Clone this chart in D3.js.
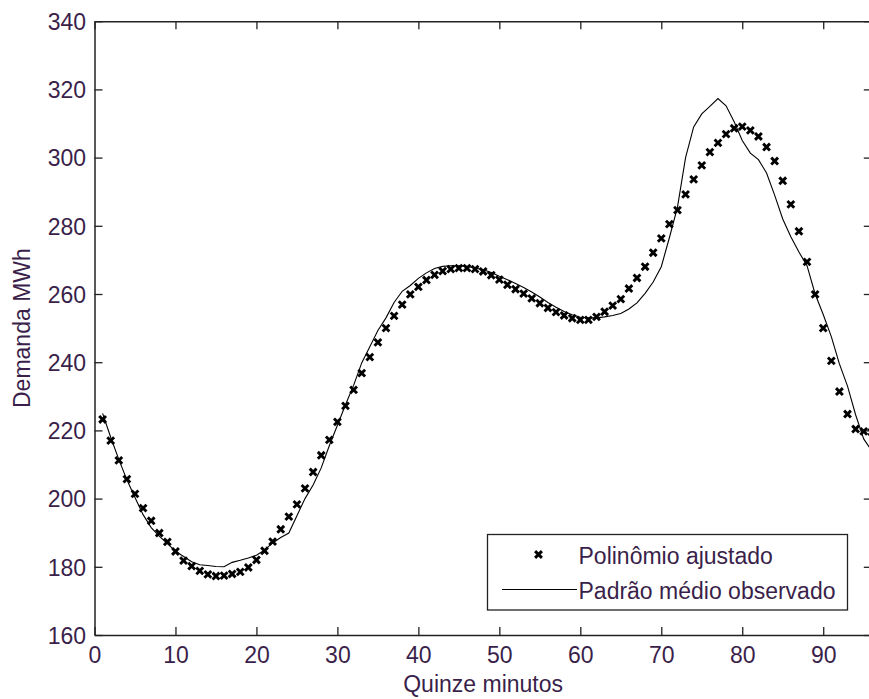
<!DOCTYPE html>
<html>
<head>
<meta charset="utf-8">
<script src="https://cdn.jsdelivr.net/npm/d3@7/dist/d3.min.js"></script>
<style>
  html, body { margin: 0; padding: 0; background: #fff; }
  svg { display: block; }
  text { font-family: "Liberation Sans", Arial, sans-serif; }
</style>
</head>
<body>
<svg id="chart" width="869" height="699"></svg>
<script>
// ---- data ----
const quarterHours = d3.range(1, 97);
const fittedPolynomial = [
  223.2, 217.0, 211.2, 205.7, 201.4, 197.2, 193.5, 189.9, 187.3, 184.5,
  181.8, 180.2, 178.8, 177.8, 177.3, 177.4, 177.9, 178.5, 179.8, 182.0,
  184.7, 187.4, 191.0, 194.7, 198.3, 203.0, 207.8, 212.7, 217.2, 222.5,
  227.2, 231.9, 236.8, 241.5, 245.8, 250.0, 253.6, 256.9, 259.9, 262.1,
  264.1, 265.6, 266.7, 267.3, 267.6, 267.6, 267.3, 266.6, 265.5, 264.2,
  262.7, 261.4, 260.1, 258.7, 257.3, 255.9, 254.7, 253.7, 252.9, 252.4,
  252.4, 253.3, 254.8, 256.6, 258.5, 261.6, 264.7, 268.0, 272.1, 276.3,
  280.5, 284.6, 289.2, 293.6, 297.7, 301.6, 304.3, 306.9, 308.6, 309.1,
  308.0, 306.2, 303.1, 299.0, 293.2, 286.3, 278.4, 269.4, 259.9, 250.0,
  240.4, 231.4, 224.8, 220.4, 219.7, 219.5
];
const observedMean = [
  225.0, 218.0, 211.5, 205.5, 200.3, 195.3, 191.5, 189.0, 186.8, 184.6,
  183.0, 181.5, 180.6, 180.4, 180.1, 180.0, 181.3, 181.9, 182.6, 183.4,
  184.9, 187.0, 188.6, 189.9, 195.0, 200.0, 204.0, 209.0, 215.5, 221.5,
  227.5, 233.2, 239.8, 244.5, 249.3, 253.0, 257.5, 260.8, 262.5, 264.6,
  266.2, 267.5, 268.1, 268.3, 268.3, 268.1, 267.6, 267.1, 266.3, 265.2,
  264.2, 263.1, 261.9, 260.6, 259.1, 257.5, 256.1, 254.9, 253.9, 253.2,
  253.0, 253.0, 253.3, 253.7, 254.3, 255.6, 257.4, 260.2, 263.5, 268.0,
  276.5, 285.5, 300.0, 309.0, 312.8, 315.0, 317.3, 315.2, 310.5, 305.0,
  301.3, 299.4, 295.5, 289.0, 282.0, 276.8, 272.3, 268.3, 260.0, 254.0,
  247.5, 239.5, 233.0, 224.6, 217.5, 214.0
];
const xTicks = [0, 10, 20, 30, 40, 50, 60, 70, 80, 90];
const yTicks = [160, 180, 200, 220, 240, 260, 280, 300, 320, 340];
const seriesNames = ["Polinômio ajustado", "Padrão médio observado"];
const xLabel = "Quinze minutos";
const yLabel = "Demanda MWh";

// ---- layout ----
const svg = d3.select("#chart");
const L = 94.5, R = 871.8, T = 21.2, B = 635;
const textColor = "#3a1f4a";
const axisColor = "#222";
const fontSize = 23;

const x = d3.scaleLinear().domain([0, 96]).range([L, R]);
const y = d3.scaleLinear().domain([160, 340]).range([B, T]);

svg.append("rect").attr("width", 869).attr("height", 699).attr("fill", "#fff");

// axes (MATLAB style: ticks inward, box)
const tickLen = 8;
const gAxes = svg.append("g");

const bottomAxis = d3.axisBottom(x).tickValues(xTicks).tickSizeInner(-tickLen).tickSizeOuter(0).tickPadding(12).tickFormat(d3.format("d"));
const topAxis = d3.axisTop(x).tickValues(xTicks).tickSizeInner(-tickLen).tickSizeOuter(0).tickFormat("");
const leftAxis = d3.axisLeft(y).tickValues(yTicks).tickSizeInner(-tickLen).tickSizeOuter(0).tickPadding(9).tickFormat(d3.format("d"));
const rightAxis = d3.axisRight(y).tickValues(yTicks).tickSizeInner(-tickLen).tickSizeOuter(0).tickFormat("");

function styleAxis(g) {
  g.select(".domain").attr("stroke", axisColor).attr("stroke-width", 1.5);
  g.selectAll(".tick line").attr("stroke", axisColor).attr("stroke-width", 1.3);
  g.selectAll(".tick text").attr("fill", textColor).style("font-size", fontSize + "px")
    .style("font-family", "'Liberation Sans', Arial, sans-serif");
}

gAxes.append("g").attr("transform", `translate(0,${B})`).call(bottomAxis).call(styleAxis)
  .selectAll(".tick text").attr("dy", null).attr("y", 28);
gAxes.append("g").attr("transform", `translate(0,${T})`).call(topAxis).call(styleAxis);
gAxes.append("g").attr("transform", `translate(${L},0)`).call(leftAxis).call(styleAxis)
  .selectAll(".tick text").attr("dy", "0.36em").attr("x", -8.5);
gAxes.append("g").attr("transform", `translate(${R},0)`).call(rightAxis).call(styleAxis);

// observed line
const line = d3.line().x((d, i) => x(quarterHours[i])).y(d => y(d));
svg.append("path").datum(observedMean)
  .attr("d", line).attr("fill", "none").attr("stroke", "#000").attr("stroke-width", 1.1);

// fitted polynomial markers (x)
const ms = 3.4;
const xMark = `M${-ms},${-ms}L${ms},${ms}M${-ms},${ms}L${ms},${-ms}`;
svg.append("g").selectAll("path").data(fittedPolynomial).join("path")
  .attr("transform", (d, i) => `translate(${x(quarterHours[i])},${y(d)})`)
  .attr("d", xMark).attr("stroke", "#000").attr("stroke-width", 2.9).attr("fill", "none");

// legend
const lg = svg.append("g");
lg.append("rect").attr("x", 487.5).attr("y", 534.5).attr("width", 360).attr("height", 75.5)
  .attr("fill", "#fff").attr("stroke", axisColor).attr("stroke-width", 1.3);
lg.append("path").attr("transform", "translate(538.5,554.5)").attr("d", xMark)
  .attr("stroke", "#000").attr("stroke-width", 2.9);
lg.append("line").attr("x1", 502).attr("x2", 577).attr("y1", 589.5).attr("y2", 589.5)
  .attr("stroke", "#000").attr("stroke-width", 1.1);
lg.append("text").attr("x", 578.5).attr("y", 564).text(seriesNames[0])
  .attr("fill", textColor).style("font-size", fontSize + "px");
lg.append("text").attr("x", 578.5).attr("y", 599).text(seriesNames[1])
  .attr("fill", textColor).style("font-size", fontSize + "px");

// axis labels
svg.append("text").attr("x", (L + R) / 2).attr("y", 692).attr("text-anchor", "middle")
  .attr("fill", textColor).style("font-size", fontSize + "px").text(xLabel);
svg.append("text").attr("transform", `translate(29.5,${(T + B) / 2}) rotate(-90)`)
  .attr("text-anchor", "middle").attr("fill", textColor).style("font-size", fontSize + "px").text(yLabel);
</script>
</body>
</html>
